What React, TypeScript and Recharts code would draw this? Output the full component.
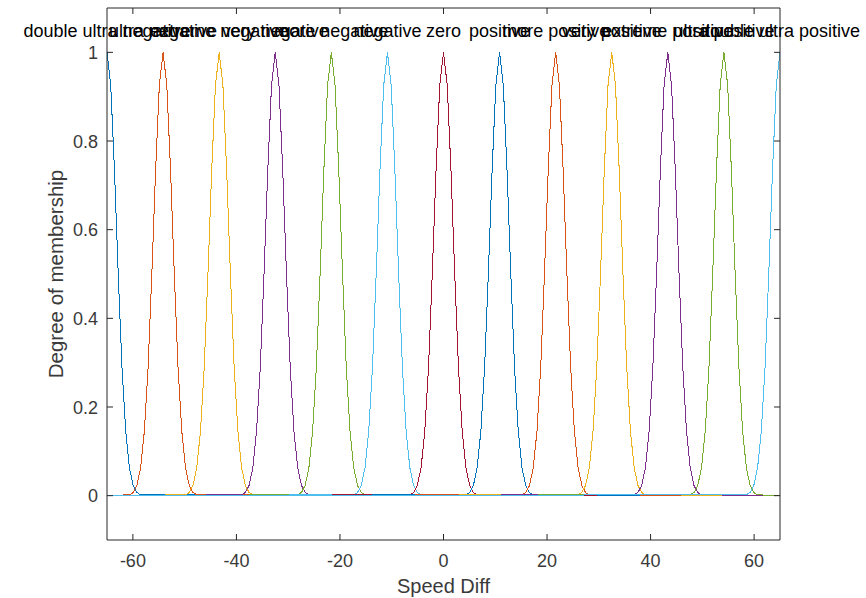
import React from 'react';
import { ComposedChart, Line, XAxis, YAxis, ReferenceDot } from 'recharts';

// Membership function centres (Speed Diff) and names
const mfCenters = [-65, -54.17, -43.33, -32.5, -21.67, -10.83, 0, 10.83, 21.67, 32.5, 43.33, 54.17, 65];
const mfNames = [
  'double ultra negative',
  'ultra negative',
  'extreme negative',
  'very negative',
  'more negative',
  'negative',
  'zero',
  'positive',
  'more positive',
  'very positive',
  'extreme positive',
  'ultra positive',
  'double ultra positive',
];
// Shape of each bell curve: offset from centre -> degree of membership
const profileOffsets = [-6.5, -5.78, -5.06, -4.33, -3.61, -2.89, -2.17, -1.44, -0.72, 0, 0.72, 1.44, 2.17, 2.89, 3.61, 4.33, 5.06, 5.78, 6.5];
const profileValues = [0.002, 0.007, 0.023, 0.063, 0.146, 0.29, 0.5, 0.735, 0.926, 1, 0.926, 0.735, 0.5, 0.29, 0.146, 0.063, 0.023, 0.007, 0.002];
const xTicks = [-60, -40, -20, 0, 20, 40, 60];
const yTicks = [0, 0.2, 0.4, 0.6, 0.8, 1];
const xDomain = [-65, 65];
const yDomain = [-0.1, 1.1];
const labelLevel = 1.05;
const matlabColors = ['#0072BD', '#D95319', '#EDB120', '#7E2F8E', '#77AC30', '#4DBEEE', '#A2142F'];

const FONT = '"Liberation Sans", Arial, Helvetica, sans-serif';
const AXIS_COLOR = '#262626';
const TICK_COLOR = '#3a3a3a';
const TICK_LEN = 6;

const seriesData = mfCenters.map((c) => {
  const pts = profileOffsets
    .map((o, i) => ({ x: Math.round((c + o) * 1000) / 1000, y: profileValues[i] }))
    .filter((p) => p.x >= xDomain[0] - 1e-6 && p.x <= xDomain[1] + 1e-6);
  if (pts[0].x > xDomain[0]) pts.unshift({ x: xDomain[0], y: 0 });
  if (pts[pts.length - 1].x < xDomain[1]) pts.push({ x: xDomain[1], y: 0 });
  return pts;
});

const BottomTick = (props: any) => {
  const { x, y, payload } = props;
  return (
    <g>
      <line x1={x} y1={y} x2={x} y2={y - TICK_LEN} stroke={AXIS_COLOR} strokeWidth={1} />
      <text x={x} y={y + 27} textAnchor="middle" fill={TICK_COLOR} fontSize={18} fontFamily={FONT}>
        {payload.value}
      </text>
    </g>
  );
};

const TopTick = (props: any) => {
  const { x, y } = props;
  return <line x1={x} y1={y} x2={x} y2={y + TICK_LEN} stroke={AXIS_COLOR} strokeWidth={1} />;
};

const LeftTick = (props: any) => {
  const { x, y, payload } = props;
  return (
    <g>
      <line x1={x} y1={y} x2={x + TICK_LEN} y2={y} stroke={AXIS_COLOR} strokeWidth={1} />
      <text x={x - 9} y={y + 6.5} textAnchor="end" fill={TICK_COLOR} fontSize={18} fontFamily={FONT}>
        {payload.value}
      </text>
    </g>
  );
};

const RightTick = (props: any) => {
  const { x, y } = props;
  return <line x1={x} y1={y} x2={x - TICK_LEN} y2={y} stroke={AXIS_COLOR} strokeWidth={1} />;
};

const XTitle = (props: any) => {
  const vb = props.viewBox || {};
  return (
    <text x={vb.x + vb.width / 2} y={vb.y + 53} textAnchor="middle" fill={TICK_COLOR} fontSize={20} fontFamily={FONT}>
      Speed Diff
    </text>
  );
};

const YTitle = (props: any) => {
  const vb = props.viewBox || {};
  const cx = vb.x + 16;
  const cy = vb.y + vb.height / 2;
  return (
    <text x={cx} y={cy} transform={`rotate(-90, ${cx}, ${cy})`} textAnchor="middle" fill={TICK_COLOR} fontSize={20.5} fontFamily={FONT}>
      Degree of membership
    </text>
  );
};

export default function App() {
  return (
    <div style={{ position: 'absolute', left: 0, top: 0, width: 866, height: 598, background: '#fff' }}>
      <ComposedChart width={866} height={598} margin={{ top: 6, right: 84, bottom: 28, left: 47 }}>
        <XAxis
          xAxisId="b"
          dataKey="x"
          type="number"
          domain={xDomain}
          ticks={xTicks}
          allowDataOverflow
          orientation="bottom"
          height={30}
          tickSize={0}
          tickMargin={0}
          tickLine={false}
          axisLine={{ stroke: AXIS_COLOR, strokeWidth: 1 }}
          tick={<BottomTick />}
          interval={0}
          label={(p: any) => <XTitle {...p} />}
        />
        <XAxis
          xAxisId="t"
          dataKey="x"
          type="number"
          domain={xDomain}
          ticks={xTicks}
          allowDataOverflow
          orientation="top"
          height={2}
          tickSize={0}
          tickMargin={0}
          tickLine={false}
          axisLine={{ stroke: AXIS_COLOR, strokeWidth: 1 }}
          tick={<TopTick />}
          interval={0}
        />
        <YAxis
          yAxisId="l"
          type="number"
          domain={yDomain}
          ticks={yTicks}
          allowDataOverflow
          orientation="left"
          width={60}
          tickSize={0}
          tickMargin={0}
          tickLine={false}
          axisLine={{ stroke: AXIS_COLOR, strokeWidth: 1 }}
          tick={<LeftTick />}
          interval={0}
          label={(p: any) => <YTitle {...p} />}
        />
        <YAxis
          yAxisId="r"
          type="number"
          domain={yDomain}
          ticks={yTicks}
          allowDataOverflow
          orientation="right"
          width={2}
          tickSize={0}
          tickMargin={0}
          tickLine={false}
          axisLine={{ stroke: AXIS_COLOR, strokeWidth: 1 }}
          tick={<RightTick />}
          interval={0}
        />
        {seriesData.map((d, i) => (
          <Line
            key={mfNames[i]}
            xAxisId="b"
            yAxisId="l"
            data={d}
            dataKey="y"
            type="linear"
            stroke={matlabColors[i % matlabColors.length]}
            strokeWidth={1}
            shapeRendering="crispEdges"
            dot={false}
            activeDot={false}
            isAnimationActive={false}
          />
        ))}
        {mfCenters.map((c, i) => (
          <ReferenceDot
            key={'lbl' + i}
            xAxisId="b"
            yAxisId="l"
            x={c}
            y={labelLevel}
            r={0}
            fill="none"
            stroke="none"
            ifOverflow="visible"
            label={{ value: mfNames[i], position: 'center', fill: '#000', fontSize: 18, fontFamily: FONT }}
          />
        ))}
      </ComposedChart>
    </div>
  );
}
